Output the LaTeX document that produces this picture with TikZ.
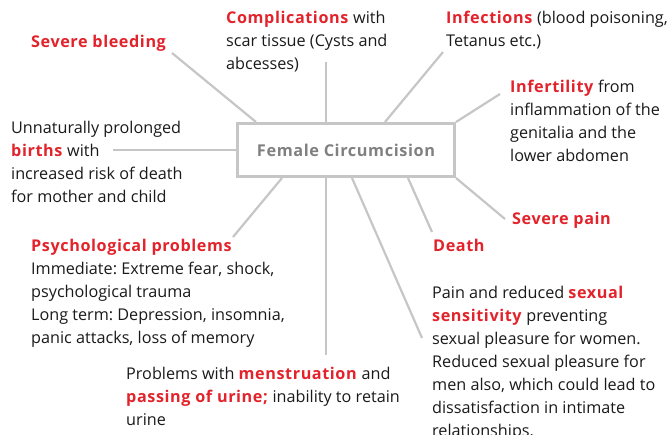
\documentclass[tikz,border=0pt]{standalone}
\usepackage{fontspec}
\setmainfont{Open Sans}[BoldFeatures={LetterSpace=3.6}]
\usepackage{xcolor}
\definecolor{fcred}{HTML}{E3232B}
\definecolor{fcgrey}{HTML}{C6C6C6}
\definecolor{fctext}{HTML}{808080}
\definecolor{fcink}{HTML}{1A1A1A}
\newcommand{\redb}[1]{\textcolor{fcred}{\textbf{#1}}}
\usepackage{tikz}
\frenchspacing

\begin{document}
\begin{tikzpicture}[x=1pt,y=-1pt,
  hub/.style={draw=fcgrey,line width=3pt,minimum width=217pt,minimum height=53pt,
    inner sep=0pt,font=\fontsize{16.3}{23}\selectfont\bfseries,text=fctext},
  txt/.style={anchor=base west,align=left,inner sep=0pt,text=fcink,
    font=\fontsize{16.2}{23}\selectfont},
  con/.style={draw=fcgrey,line width=2.2pt}]
\useasboundingbox (0,0) rectangle (671,434);
\node[hub] (fc) at (346,150) {Female Circumcision};
% effects round the hub (placed at the baseline of their last line)
\node[txt] (bleed) at (31,47) {\redb{Severe bleeding}};
\node[txt] (compl) at (226,69) {\redb{Complications} with\\scar tissue (Cysts and\\abcesses)};
\node[txt] (infec) at (446,46) {\redb{Infections} (blood poisoning,\\Tetanus etc.)};
\node[txt] (infert) at (510,161) {\redb{Infertility} from\\inflammation of the\\genitalia and the\\lower abdomen};
\node[txt] (birth) at (11,202) {Unnaturally prolonged\\\redb{births} with\\increased risk of death\\for mother and child};
\node[txt] (pain) at (512,224) {\redb{Severe pain}};
\node[txt] (death) at (433,251) {\redb{Death}};
\node[txt] (psych) at (31,343) {\redb{Psychological problems}\\Immediate: Extreme fear, shock,\\psychological trauma\\Long term: Depression, insomnia,\\panic attacks, loss of memory};
\node[txt] (sex) at (432,436) {Pain and reduced \redb{sexual}\\\redb{sensitivity} preventing\\sexual pleasure for women.\\Reduced sexual pleasure for\\men also, which could lead to\\dissatisfaction in intimate\\relationships.};
\node[txt] (mens) at (126,425) {Problems with \redb{menstruation} and\\\redb{passing of urine;} inability to retain\\urine};
% free ends of the spokes
\coordinate (bleedend) at (172,53);
\coordinate (complend) at (326,62);
\coordinate (infecend) at (443,52);
\coordinate (infertend) at (500,94);
\coordinate (birthend) at (113,150);
\coordinate (painend) at (505,219);
\coordinate (deathend) at (432,232);
\coordinate (sexend) at (422,338);
\coordinate (mensend) at (326,355);
\coordinate (psychend) at (233,237);
\draw[con] ([xshift=20pt]fc.north west) -- (bleedend);
\draw[con] ([xshift=-20pt]fc.north) -- (complend);
\draw[con] ([xshift=39pt]fc.north) -- (infecend);
\draw[con] (fc.north east) -- (infertend);
\draw[con] (fc.west) -- (birthend);
\draw[con] (fc.south east) -- (painend);
\draw[con] ([xshift=62pt]fc.south) -- (deathend);
\draw[con] ([xshift=6pt]fc.south) -- (sexend);
\draw[con] ([xshift=-20pt]fc.south) -- (mensend);
\draw[con] ([xshift=-64pt]fc.south) -- (psychend);
\end{tikzpicture}
\end{document}
